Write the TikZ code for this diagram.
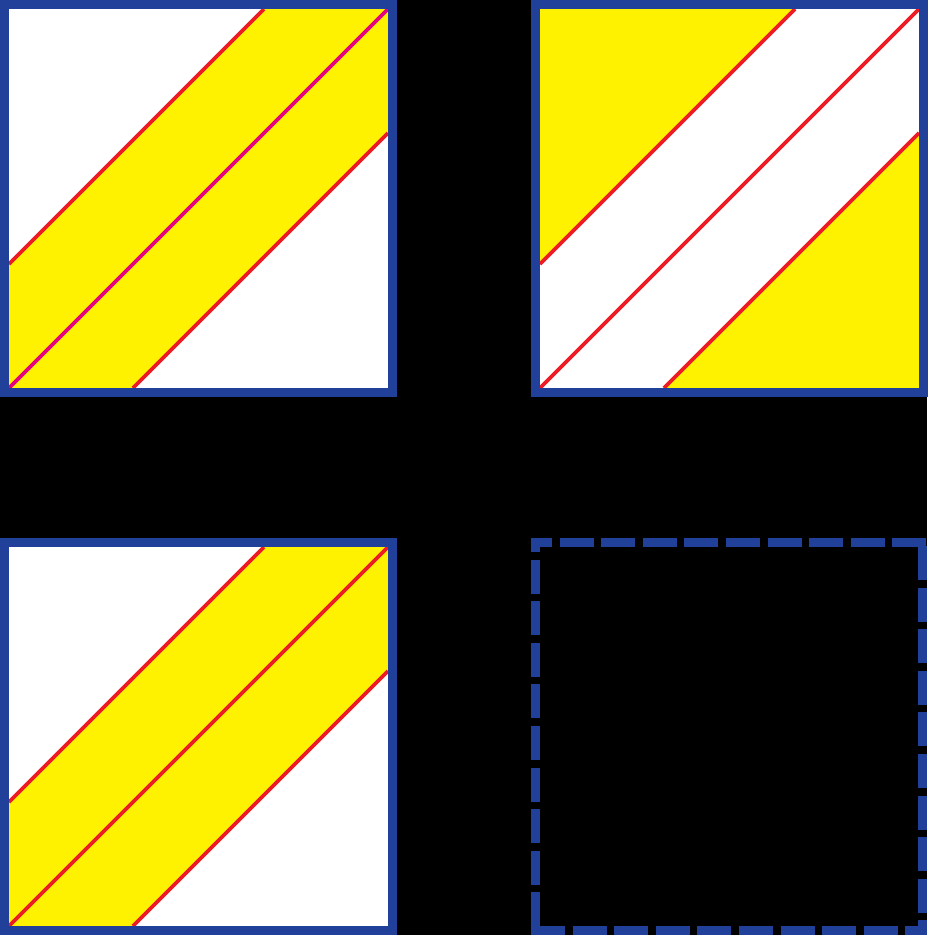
\documentclass[tikz,border=0pt]{standalone}
\definecolor{frameblue}{RGB}{33,64,154}
\definecolor{bandyellow}{RGB}{255,242,0}
\definecolor{cutred}{RGB}{237,28,36}
\definecolor{cutmagenta}{RGB}{230,0,126}
\begin{document}
\begin{tikzpicture}[x=1pt,y=-1pt,
  frame/.style={draw=frameblue,line width=9pt},
  dashframe/.style={frameblue,line width=9pt,dash pattern=on 34pt off 7.6pt},
  cut/.style={line width=3.6pt},
  band/.style={fill=bandyellow}]
\fill[black] (0,0) rectangle (927,935);
\useasboundingbox (0,0) rectangle (927,935);
% left column: yellow band along the diagonal
\foreach \dy/\mid in {0/cutmagenta,538/cutred} {
  \begin{scope}[shift={(0,\dy)}]
    \fill[white] (9,9) rectangle (388,388);
    \fill[band] (9,264) -- (264,9) -- (388,9) -- (388,133) -- (133,388) -- (9,388) -- cycle;
    \draw[cut,cutred] (9,264) -- (264,9);
    \draw[cut,\mid] (9,388) -- (388,9);
    \draw[cut,cutred] (133,388) -- (388,133);
    \draw[frame] (4.5,4.5) rectangle (392.5,392.5);
  \end{scope}
}
% top right: the complement
\begin{scope}[shift={(531,0)}]
  \fill[white] (9,9) rectangle (388,388);
  \fill[band] (9,9) -- (264,9) -- (9,264) -- cycle;
  \fill[band] (388,133) -- (388,388) -- (133,388) -- cycle;
  \draw[cut,cutred] (9,264) -- (264,9);
  \draw[cut,cutred] (9,388) -- (388,9);
  \draw[cut,cutred] (133,388) -- (388,133);
  \draw[frame] (4.5,4.5) rectangle (392.5,392.5);
\end{scope}
% bottom right: empty dashed frame
\draw[dashframe,dash phase=13pt] (531,542.5) -- (927,542.5);
\draw[dashframe,dash phase=20pt] (535.5,538) -- (535.5,935);
\draw[dashframe] (922.5,546) -- (922.5,935);
\draw[dashframe] (531,930.5) -- (927,930.5);
\end{tikzpicture}
\end{document}
